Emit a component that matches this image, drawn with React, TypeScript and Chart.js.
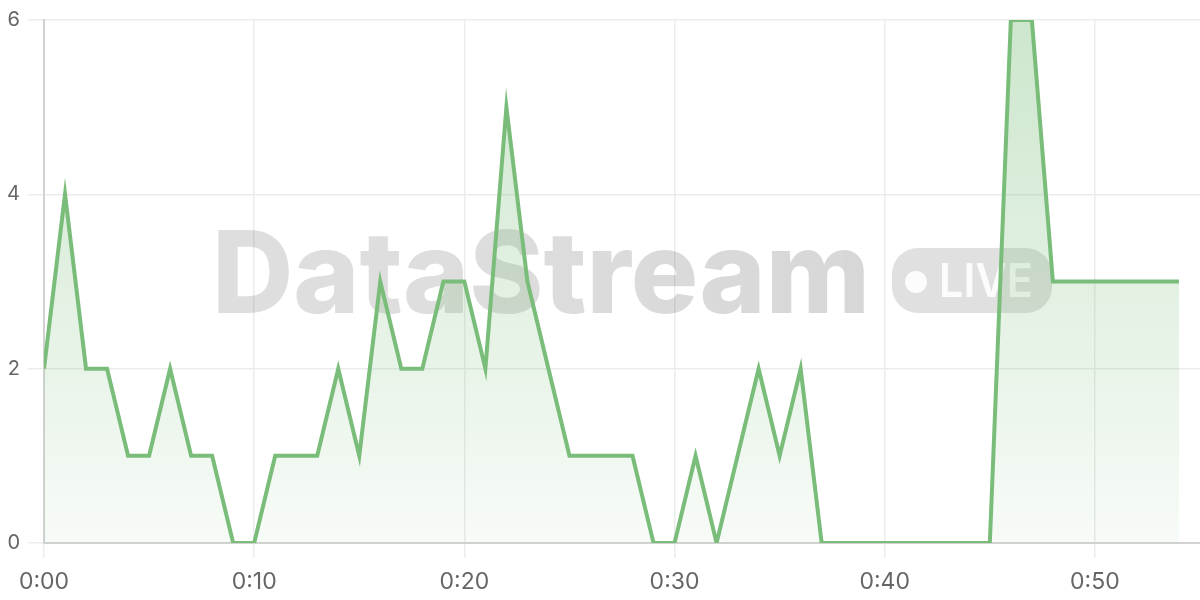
import { FC, useEffect, useRef } from 'react';
import Chart, { ChartConfiguration, Plugin } from 'chart.js/auto';

// minutes since start of the stream
const minutes = [
  0, 1, 2, 3, 4, 5, 6, 7, 8, 9, 10, 11, 12, 13, 14, 15, 16, 17, 18, 19, 20, 21, 22, 23, 24, 25, 26,
  27, 28, 29, 30, 31, 32, 33, 34, 35, 36, 37, 38, 39, 40, 41, 42, 43, 44, 45, 46, 47, 48, 49, 50,
  51, 52, 53, 54,
];
const viewers = [
  2, 4, 2, 2, 1, 1, 2, 1, 1, 0, 0, 1, 1, 1, 2, 1, 3, 2, 2, 3, 3, 2, 5, 3, 2, 1, 1, 1, 1, 0, 0, 1, 0,
  1, 2, 1, 2, 0, 0, 0, 0, 0, 0, 0, 0, 0, 6, 6, 3, 3, 3, 3, 3, 3, 3,
];
const xMax = 55;
const yTicks = [0, 2, 4, 6];

const LINE = 'rgb(122, 189, 122)';
const FONT = 'Inter, "Liberation Sans", Arial, sans-serif';

const watermark: Plugin<'line'> = {
  id: 'watermark',
  beforeDatasetsDraw(chart) {
    const { ctx } = chart;
    ctx.save();
    ctx.font = '800 114px Inter';
    ctx.textBaseline = 'alphabetic';
    const text = 'DataStream';
    const w = ctx.measureText(text).width;
    const grad = ctx.createLinearGradient(212, 0, 870, 0);
    grad.addColorStop(0, 'rgba(0,0,0,0.13)');
    grad.addColorStop(1, 'rgba(0,0,0,0.17)');
    ctx.fillStyle = grad;
    ctx.translate(212, 313);
    ctx.scale(658 / w, 1);
    ctx.fillText(text, 0, 0);
    ctx.restore();

    ctx.save();
    ctx.fillStyle = 'rgba(0,0,0,0.12)';
    ctx.beginPath();
    ctx.roundRect(892, 248, 160, 65, 26);
    ctx.fill();
    ctx.fillStyle = 'rgba(255,255,255,0.9)';
    ctx.beginPath();
    ctx.arc(916, 282, 11, 0, Math.PI * 2);
    ctx.fill();
    ctx.font = '600 47px Inter';
    const lw = ctx.measureText('LIVE').width;
    ctx.translate(939, 297);
    ctx.scale(94 / lw, 1);
    ctx.fillText('LIVE', 0, 0);
    ctx.restore();

    // sharp peaks like the original
    ctx.miterLimit = 30;
  },
};

const App: FC = () => {
  const chartRef = useRef<HTMLCanvasElement | null>(null);
  const chartInstance = useRef<Chart | null>(null);

  useEffect(() => {
    document.body.style.margin = '0';
    if (chartRef.current) {
      const ctx = chartRef.current.getContext('2d');
      if (ctx) {
        if (chartInstance.current) {
          chartInstance.current.destroy();
        }

        chartInstance.current = new Chart(ctx, {
          type: 'line',
          data: {
            datasets: [
              {
                label: 'Viewers',
                data: minutes.map((m, i) => ({ x: m, y: viewers[i] })),
                borderColor: LINE,
                borderWidth: 4,
                borderJoinStyle: 'miter',
                tension: 0,
                pointRadius: 0,
                fill: 'origin',
                backgroundColor: (c: any) => {
                  const area = c.chart.chartArea;
                  if (!area) return 'rgba(122,189,122,0.2)';
                  const g = c.chart.ctx.createLinearGradient(0, area.top, 0, area.bottom);
                  g.addColorStop(0, 'rgba(122,189,122,0.38)');
                  g.addColorStop(1, 'rgba(122,189,122,0.06)');
                  return g;
                },
              },
            ],
          },
          options: {
            animation: false,
            responsive: true,
            maintainAspectRatio: false,
            layout: { padding: { top: 20, right: 0, left: 0, bottom: 0 } },
            plugins: {
              legend: { display: false },
              tooltip: { enabled: false },
            },
            scales: {
              x: {
                type: 'linear',
                min: 0,
                max: xMax,
                grid: { color: '#ececec', lineWidth: 1.5, tickLength: 15 },
                border: { color: '#d2d2d2', width: 2 },
                ticks: {
                  stepSize: 10,
                  includeBounds: false,
                  padding: 10,
                  color: '#666',
                  font: { family: FONT, size: 23 },
                  maxRotation: 0,
                  callback: (v: any) => `0:${String(v).padStart(2, '0')}`,
                },
                afterFit: (s: any) => {
                  s.height = 57;
                },
              },
              y: {
                min: yTicks[0],
                max: yTicks[yTicks.length - 1],
                grid: { color: '#ececec', lineWidth: 1.5, tickLength: 16 },
                border: { color: '#d2d2d2', width: 2 },
                ticks: {
                  stepSize: 2,
                  padding: 8,
                  color: '#666',
                  font: { family: FONT, size: 20 },
                },
                afterFit: (s: any) => {
                  s.width = 44;
                },
              },
            },
          },
          plugins: [watermark],
        } as ChartConfiguration<'line'>);
      }
    }

    return () => {
      if (chartInstance.current) {
        chartInstance.current.destroy();
        chartInstance.current = null;
      }
    };
  }, []);

  return (
    <div style={{ width: '1200px', height: '600px', position: 'relative' }}>
      <canvas ref={chartRef} />
    </div>
  );
};

export default App;
